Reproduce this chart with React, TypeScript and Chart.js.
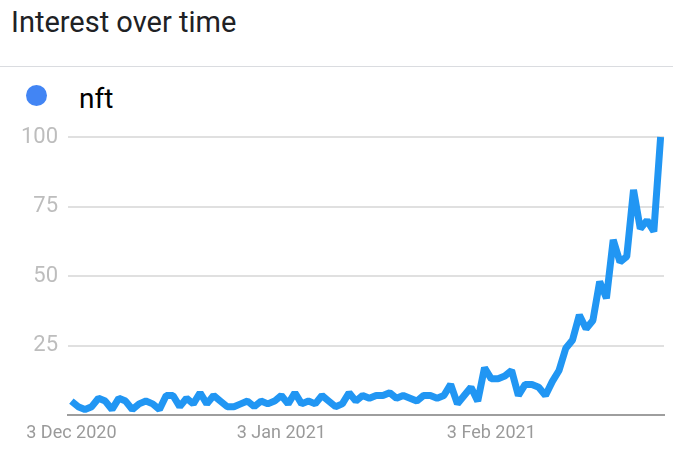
import { useEffect, useRef } from 'react';
import { Chart, registerables } from 'chart.js';

Chart.register(...registerables);

// daily points, 3 Dec 2020 .. 28 Feb 2021
const START_DAY = Date.UTC(2020, 11, 3);
const DAY_COUNT = 88;
const MONTHS = ['Jan', 'Feb', 'Mar', 'Apr', 'May', 'Jun', 'Jul', 'Aug', 'Sep', 'Oct', 'Nov', 'Dec'];

const days: string[] = Array.from({ length: DAY_COUNT }, (_, i) => {
  const d = new Date(START_DAY + i * 86400000);
  return `${d.getUTCDate()} ${MONTHS[d.getUTCMonth()]} ${d.getUTCFullYear()}`;
});

const nftInterest = [
  5, 3, 2, 3, 6, 5, 2, 6, 5, 2,
  4, 5, 4, 2, 7, 7, 3, 6, 4, 8,
  4, 7, 5, 3, 3, 4, 5, 3, 5, 4,
  5, 7, 4, 8, 4, 5, 4, 7, 5, 3,
  4, 8, 5, 7, 6, 7, 7, 8, 6, 7,
  6, 5, 7, 7, 6, 7, 11, 4, 7, 10,
  5, 17, 13, 13, 14, 16, 7, 11, 11, 10,
  7, 12, 16, 24, 27, 36, 31, 34, 48, 42,
  63, 55, 57, 81, 67, 70, 66, 100,
];

const xTickLabels = ['3 Dec 2020', '3 Jan 2021', '3 Feb 2021'];
const yTicks = [0, 25, 50, 75, 100];

export default function App() {
  const canvasRef = useRef<HTMLCanvasElement>(null);
  const chartRef = useRef<Chart | null>(null);

  useEffect(() => {
    if (!canvasRef.current) return;
    if (chartRef.current) chartRef.current.destroy();

    chartRef.current = new Chart(canvasRef.current, {
      type: 'line',
      data: {
        labels: days,
        datasets: [
          {
            label: 'nft',
            data: nftInterest,
            borderColor: '#2196F3',
            borderWidth: 7,
            borderJoinStyle: 'bevel',
            pointRadius: 0,
            tension: 0,
            fill: false,
            clip: false,
          },
        ],
      },
      options: {
        responsive: true,
        maintainAspectRatio: false,
        animation: false,
        layout: { padding: { top: 17, right: 9, left: 0, bottom: 0 } },
        plugins: {
          legend: { display: false },
          tooltip: { enabled: false },
        },
        scales: {
          x: {
            offset: true,
            grid: { display: false, offset: false },
            border: { display: true, color: '#9e9e9e', width: 2 },
            afterFit: (axis) => {
              axis.height = 42;
            },
            ticks: {
              autoSkip: false,
              maxRotation: 0,
              minRotation: 0,
              padding: 0,
              color: '#9a9a9a',
              font: { family: 'Roboto', size: 18 },
              callback: (_v, i) => (xTickLabels.includes(days[i]) ? days[i] : ''),
            },
          },
          y: {
            min: 0,
            max: 100,
            afterFit: (axis) => {
              // fixed gutter, no extra room above the 100 line
              axis.width = 68;
              axis.paddingTop = 0;
              axis.paddingBottom = 0;
            },
            afterBuildTicks: (axis) => {
              axis.ticks = yTicks.map((value) => ({ value }));
            },
            grid: { color: '#e0e0e0', lineWidth: 2, drawTicks: false },
            border: { display: false },
            ticks: {
              padding: 10,
              color: '#bdbdbd',
              font: { family: 'Roboto', size: 22 },
              callback: (v) => (v === 0 ? '' : String(v)),
            },
          },
        },
      },
    });

    return () => {
      chartRef.current?.destroy();
      chartRef.current = null;
    };
  }, []);

  return (
    <div
      style={{
        position: 'absolute',
        left: 0,
        top: 0,
        width: 673,
        height: 457,
        background: '#fff',
        fontFamily: 'Roboto',
        overflow: 'hidden',
      }}
    >
      <div
        style={{
          position: 'absolute',
          left: 11,
          top: 8,
          fontSize: 29,
          lineHeight: '29px',
          color: '#202124',
          whiteSpace: 'nowrap',
        }}
      >
        Interest over time
      </div>
      <div style={{ position: 'absolute', left: 0, top: 66, width: 673, height: 1, background: '#dadce0' }} />
      <div
        style={{
          position: 'absolute',
          left: 26,
          top: 85,
          width: 21,
          height: 21,
          borderRadius: '50%',
          background: '#4285F4',
        }}
      />
      <div
        style={{
          position: 'absolute',
          left: 79,
          top: 85,
          fontSize: 28,
          lineHeight: '28px',
          color: '#000',
        }}
      >
        nft
      </div>
      <div style={{ position: 'absolute', left: 0, top: 120, width: 673, height: 337 }}>
        <canvas ref={canvasRef} />
      </div>
    </div>
  );
}
